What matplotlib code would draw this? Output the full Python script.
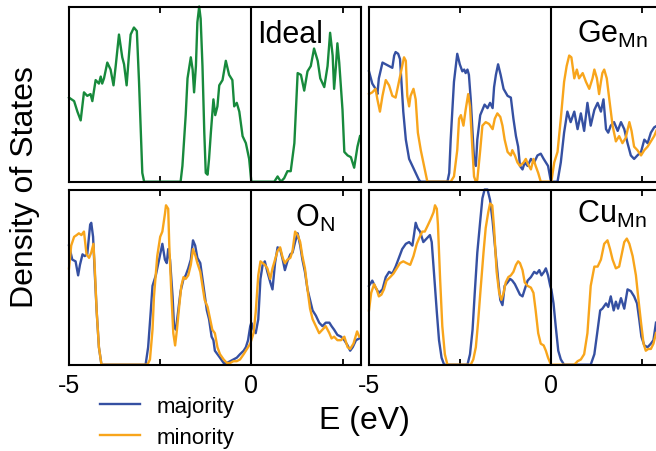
import matplotlib
matplotlib.use('Agg')
import matplotlib.pyplot as plt

# energies in eV, DOS in arbitrary units (panel top = 1)
ideal_e = [-5.00, -4.86, -4.77, -4.68, -4.59, -4.50, -4.41, -4.36, -4.27, -4.18,
           -4.13, -4.09, -4.04, -3.95, -3.86, -3.78, -3.72, -3.63, -3.54, -3.49,
           -3.42, -3.35, -3.31, -3.22, -3.14, -3.08, -3.03, -2.99, -2.94, -1.94,
           -1.89, -1.80, -1.75, -1.66, -1.61, -1.57, -1.52, -1.48, -1.43, -1.39,
           -1.34, -1.29, -1.25, -1.20, -1.16, -1.11, -1.04, -0.99, -0.93, -0.88,
           -0.79, -0.70, -0.61, -0.52, -0.47, -0.40, -0.33, -0.24, -0.15, -0.06,
           0.00, 0.63, 0.72, 0.81, 0.90, 0.99, 1.08, 1.18, 1.27, 1.36,
           1.45, 1.54, 1.63, 1.72, 1.82, 1.89, 2.00, 2.09, 2.16, 2.23,
           2.27, 2.32, 2.36, 2.41, 2.50, 2.55, 2.64, 2.73, 2.82, 2.91, 2.98]
ideal_dos = [0.48, 0.46, 0.40, 0.35, 0.51, 0.49, 0.50, 0.46, 0.58, 0.56,
             0.60, 0.56, 0.59, 0.68, 0.64, 0.55, 0.66, 0.84, 0.71, 0.67,
             0.55, 0.74, 0.84, 0.88, 0.86, 0.57, 0.28, 0.05, 0.00, 0.00,
             0.09, 0.38, 0.59, 0.71, 0.64, 0.51, 0.66, 0.91, 1.00, 0.93,
             0.66, 0.28, 0.05, 0.04, 0.13, 0.28, 0.47, 0.38, 0.43, 0.55,
             0.58, 0.69, 0.61, 0.58, 0.43, 0.45, 0.40, 0.26, 0.22, 0.13,
             0.00, 0.00, 0.03, 0.00, 0.02, 0.06, 0.06, 0.22, 0.62, 0.61,
             0.52, 0.63, 0.66, 0.76, 0.69, 0.59, 0.54, 0.66, 0.85, 0.72,
             0.53, 0.66, 0.79, 0.68, 0.41, 0.17, 0.15, 0.14, 0.08, 0.20, 0.26]

gemn_e_maj = [-5.00, -4.91, -4.82, -4.77, -4.73, -4.63, -4.54, -4.45, -4.36, -4.31,
              -4.27, -4.20, -4.15, -4.11, -4.06, -3.99, -3.90, -3.81, -3.72, -3.63,
              -3.58, -2.85, -2.80, -2.76, -2.67, -2.58, -2.51, -2.44, -2.39, -2.35,
              -2.30, -2.26, -2.21, -2.16, -2.12, -2.07, -2.03, -1.95, -1.89, -1.83,
              -1.75, -1.68, -1.61, -1.57, -1.52, -1.46, -1.39, -1.31, -1.20, -1.11,
              -1.04, -0.97, -0.91, -0.86, -0.79, -0.73, -0.65, -0.56, -0.47, -0.38,
              -0.29, -0.21, -0.15, -0.09, -0.01, 0.17, 0.26, 0.35, 0.44, 0.53,
              0.63, 0.72, 0.81, 0.90, 0.99, 1.08, 1.18, 1.27, 1.36, 1.43,
              1.50, 1.56, 1.63, 1.72, 1.82, 1.91, 2.00, 2.09, 2.18, 2.27,
              2.36, 2.46, 2.55, 2.64, 2.73, 2.82, 2.90]
gemn_maj = [0.63, 0.56, 0.53, 0.50, 0.59, 0.68, 0.67, 0.66, 0.65, 0.72,
            0.74, 0.73, 0.70, 0.57, 0.40, 0.24, 0.13, 0.09, 0.05, 0.01,
            0.00, 0.00, 0.05, 0.24, 0.57, 0.73, 0.67, 0.63, 0.64, 0.62,
            0.64, 0.61, 0.47, 0.28, 0.13, 0.09, 0.24, 0.38, 0.41, 0.44,
            0.42, 0.45, 0.42, 0.54, 0.61, 0.67, 0.61, 0.53, 0.49, 0.48,
            0.36, 0.26, 0.20, 0.09, 0.07, 0.11, 0.09, 0.13, 0.11, 0.15,
            0.16, 0.13, 0.11, 0.09, 0.00, 0.00, 0.11, 0.28, 0.40, 0.34,
            0.40, 0.30, 0.39, 0.29, 0.45, 0.32, 0.41, 0.45, 0.40, 0.47,
            0.30, 0.28, 0.32, 0.34, 0.29, 0.34, 0.30, 0.22, 0.15, 0.13,
            0.15, 0.17, 0.24, 0.22, 0.28, 0.31, 0.32]
gemn_e_min = [-5.00, -4.91, -4.82, -4.77, -4.70, -4.63, -4.54, -4.45, -4.36, -4.27,
              -4.18, -4.09, -4.04, -3.99, -3.95, -3.90, -3.86, -3.78, -3.72, -3.66,
              -3.58, -3.49, -3.40, -2.76, -2.67, -2.58, -2.53, -2.48, -2.41, -2.35,
              -2.28, -2.23, -2.16, -2.12, -2.07, -2.03, -1.95, -1.89, -1.80, -1.71,
              -1.61, -1.55, -1.48, -1.40, -1.34, -1.28, -1.20, -1.11, -1.07, -1.00,
              -0.93, -0.86, -0.76, -0.70, -0.64, -0.56, -0.49, -0.43, -0.36, -0.29,
              0.00, 0.08, 0.17, 0.26, 0.35, 0.42, 0.49, 0.55, 0.63, 0.70,
              0.76, 0.86, 0.95, 1.04, 1.13, 1.18, 1.25, 1.31, 1.36, 1.40,
              1.45, 1.52, 1.59, 1.68, 1.77, 1.86, 1.95, 2.04, 2.14, 2.20,
              2.27, 2.36, 2.46, 2.55, 2.64, 2.73, 2.82, 2.90]
gemn_min = [0.50, 0.51, 0.53, 0.47, 0.40, 0.49, 0.58, 0.55, 0.49, 0.48,
            0.57, 0.66, 0.71, 0.69, 0.49, 0.43, 0.49, 0.53, 0.47, 0.28,
            0.18, 0.09, 0.00, 0.00, 0.03, 0.18, 0.36, 0.38, 0.32, 0.41,
            0.50, 0.43, 0.17, 0.03, 0.00, 0.01, 0.18, 0.32, 0.34, 0.33,
            0.30, 0.36, 0.39, 0.37, 0.32, 0.24, 0.17, 0.15, 0.18, 0.15,
            0.11, 0.09, 0.11, 0.13, 0.10, 0.07, 0.13, 0.09, 0.05, 0.00,
            0.00, 0.11, 0.17, 0.36, 0.57, 0.66, 0.72, 0.71, 0.59, 0.64,
            0.59, 0.62, 0.57, 0.53, 0.59, 0.64, 0.59, 0.50, 0.57, 0.62,
            0.64, 0.59, 0.47, 0.32, 0.23, 0.26, 0.22, 0.25, 0.34, 0.29,
            0.20, 0.18, 0.15, 0.18, 0.20, 0.23, 0.26, 0.30]

on_e_maj = [-5.00, -4.91, -4.82, -4.75, -4.70, -4.63, -4.57, -4.50, -4.42, -4.39,
            -4.34, -4.30, -4.24, -4.18, -4.11, -2.90, -2.83, -2.76, -2.71, -2.62,
            -2.53, -2.44, -2.37, -2.32, -2.28, -2.23, -2.16, -2.12, -2.07, -2.01,
            -1.94, -1.86, -1.80, -1.73, -1.66, -1.60, -1.54, -1.48, -1.40, -1.34,
            -1.28, -1.22, -1.16, -1.09, -1.04, -1.00, -0.93, -0.86, -0.76, -0.67,
            -0.58, -0.49, -0.40, -0.31, -0.21, -0.15, -0.09, -0.03, 0.00, 0.06,
            0.12, 0.19, 0.25, 0.31, 0.37, 0.44, 0.52, 0.58, 0.65, 0.72,
            0.79, 0.86, 0.92, 0.99, 1.07, 1.13, 1.20, 1.27, 1.34, 1.40,
            1.47, 1.54, 1.61, 1.68, 1.77, 1.86, 1.95, 2.04, 2.14, 2.20,
            2.27, 2.36, 2.46, 2.55, 2.64, 2.71, 2.78, 2.87, 2.96]
on_maj = [0.68, 0.60, 0.59, 0.51, 0.57, 0.63, 0.62, 0.63, 0.80, 0.81,
          0.73, 0.55, 0.30, 0.10, 0.00, 0.00, 0.10, 0.30, 0.45, 0.51,
          0.60, 0.69, 0.60, 0.58, 0.66, 0.60, 0.39, 0.22, 0.20, 0.30,
          0.42, 0.49, 0.51, 0.55, 0.60, 0.71, 0.68, 0.61, 0.58, 0.49,
          0.40, 0.31, 0.26, 0.16, 0.14, 0.08, 0.06, 0.04, 0.01, 0.01,
          0.02, 0.03, 0.04, 0.06, 0.08, 0.10, 0.14, 0.22, 0.24, 0.20,
          0.18, 0.26, 0.49, 0.57, 0.59, 0.53, 0.47, 0.43, 0.58, 0.67,
          0.66, 0.60, 0.54, 0.59, 0.63, 0.64, 0.70, 0.75, 0.68, 0.60,
          0.53, 0.43, 0.37, 0.31, 0.28, 0.24, 0.22, 0.24, 0.24, 0.22,
          0.20, 0.17, 0.16, 0.14, 0.11, 0.08, 0.10, 0.14, 0.15]
on_e_min = [-5.00, -4.94, -4.86, -4.79, -4.73, -4.66, -4.59, -4.52, -4.45, -4.39,
            -4.33, -4.30, -4.24, -4.18, -4.11, -2.85, -2.78, -2.71, -2.67, -2.58,
            -2.50, -2.44, -2.37, -2.34, -2.28, -2.25, -2.19, -2.14, -2.09, -2.04,
            -1.98, -1.92, -1.86, -1.80, -1.73, -1.66, -1.60, -1.53, -1.48, -1.40,
            -1.34, -1.28, -1.20, -1.13, -1.07, -1.00, -0.93, -0.86, -0.76, -0.67,
            -0.58, -0.49, -0.40, -0.31, -0.21, -0.12, -0.03, 0.00, 0.06, 0.12,
            0.19, 0.25, 0.31, 0.37, 0.44, 0.52, 0.58, 0.65, 0.72, 0.79,
            0.86, 0.92, 0.99, 1.07, 1.13, 1.20, 1.27, 1.34, 1.40, 1.47,
            1.54, 1.61, 1.68, 1.77, 1.86, 1.95, 2.04, 2.14, 2.20, 2.27,
            2.36, 2.46, 2.55, 2.64, 2.71, 2.80, 2.90, 2.96]
on_min = [0.55, 0.68, 0.73, 0.74, 0.75, 0.74, 0.76, 0.63, 0.61, 0.64,
          0.69, 0.58, 0.30, 0.10, 0.00, 0.00, 0.03, 0.20, 0.39, 0.62,
          0.73, 0.76, 0.86, 0.91, 0.89, 0.68, 0.39, 0.18, 0.11, 0.20,
          0.33, 0.45, 0.50, 0.49, 0.51, 0.57, 0.66, 0.62, 0.58, 0.53,
          0.45, 0.37, 0.33, 0.26, 0.20, 0.18, 0.10, 0.06, 0.03, 0.01,
          0.01, 0.02, 0.02, 0.03, 0.06, 0.09, 0.12, 0.14, 0.18, 0.30,
          0.51, 0.59, 0.58, 0.57, 0.55, 0.49, 0.55, 0.60, 0.65, 0.67,
          0.61, 0.58, 0.60, 0.61, 0.65, 0.76, 0.74, 0.70, 0.62, 0.55,
          0.43, 0.32, 0.26, 0.22, 0.18, 0.20, 0.22, 0.18, 0.15, 0.16,
          0.14, 0.14, 0.16, 0.10, 0.09, 0.12, 0.19, 0.16]

cumn_e_maj = [-5.00, -4.91, -4.82, -4.73, -4.63, -4.54, -4.45, -4.36, -4.27, -4.18,
              -4.09, -3.99, -3.90, -3.81, -3.76, -3.72, -3.67, -3.60, -3.51, -3.42,
              -3.33, -3.28, -3.22, -3.14, -3.08, -3.01, -2.94, -2.30, -2.23, -2.16,
              -2.10, -2.03, -1.95, -1.89, -1.83, -1.75, -1.68, -1.61, -1.52, -1.46,
              -1.40, -1.34, -1.28, -1.20, -1.13, -1.07, -1.00, -0.93, -0.86, -0.79,
              -0.73, -0.65, -0.56, -0.47, -0.40, -0.33, -0.27, -0.20, -0.15, -0.09,
              -0.03, 0.00, 0.06, 0.12, 0.19, 0.26, 0.35, 1.08, 1.18, 1.27,
              1.34, 1.40, 1.50, 1.56, 1.63, 1.71, 1.77, 1.83, 1.91, 2.00,
              2.09, 2.18, 2.27, 2.35, 2.41, 2.47, 2.55, 2.64, 2.73, 2.80, 2.87]
cumn_maj = [0.45, 0.48, 0.44, 0.41, 0.43, 0.50, 0.53, 0.52, 0.56, 0.61,
            0.66, 0.69, 0.70, 0.68, 0.75, 0.81, 0.78, 0.76, 0.70, 0.72,
            0.74, 0.70, 0.53, 0.30, 0.14, 0.04, 0.00, 0.00, 0.06, 0.20,
            0.41, 0.64, 0.82, 0.95, 1.00, 1.00, 0.94, 0.82, 0.62, 0.49,
            0.37, 0.34, 0.45, 0.47, 0.49, 0.48, 0.46, 0.43, 0.40, 0.39,
            0.43, 0.48, 0.50, 0.53, 0.52, 0.54, 0.51, 0.53, 0.55, 0.51,
            0.45, 0.43, 0.35, 0.22, 0.08, 0.03, 0.00, 0.00, 0.06, 0.20,
            0.31, 0.32, 0.35, 0.33, 0.39, 0.31, 0.36, 0.32, 0.38, 0.32,
            0.43, 0.42, 0.39, 0.35, 0.26, 0.16, 0.11, 0.10, 0.12, 0.14, 0.24]
cumn_e_min = [-5.00, -4.94, -4.86, -4.79, -4.73, -4.66, -4.59, -4.52, -4.42, -4.33,
              -4.24, -4.15, -4.06, -3.97, -3.87, -3.78, -3.69, -3.63, -3.54, -3.47,
              -3.40, -3.31, -3.23, -3.19, -3.14, -3.11, -3.05, -2.99, -2.92, -2.85,
              -2.21, -2.14, -2.07, -2.01, -1.94, -1.86, -1.80, -1.73, -1.68, -1.62,
              -1.57, -1.50, -1.43, -1.37, -1.31, -1.25, -1.18, -1.11, -1.04, -0.97,
              -0.91, -0.86, -0.79, -0.73, -0.65, -0.56, -0.49, -0.43, -0.36, -0.29,
              -0.21, -0.15, -0.09, -0.01, 0.63, 0.72, 0.81, 0.90, 0.99, 1.08,
              1.18, 1.27, 1.36, 1.45, 1.54, 1.61, 1.68, 1.77, 1.86, 1.93,
              2.00, 2.07, 2.14, 2.23, 2.32, 2.38, 2.46, 2.53, 2.59, 2.66,
              2.73, 2.80, 2.87]
cumn_min = [0.31, 0.41, 0.46, 0.43, 0.39, 0.40, 0.43, 0.48, 0.50, 0.52,
            0.55, 0.58, 0.59, 0.58, 0.57, 0.62, 0.69, 0.72, 0.76, 0.76,
            0.79, 0.83, 0.87, 0.91, 0.89, 0.80, 0.49, 0.22, 0.06, 0.00,
            0.00, 0.03, 0.10, 0.24, 0.43, 0.64, 0.78, 0.87, 0.92, 0.91,
            0.78, 0.53, 0.41, 0.37, 0.41, 0.47, 0.50, 0.51, 0.53, 0.57,
            0.59, 0.58, 0.54, 0.47, 0.45, 0.44, 0.41, 0.31, 0.18, 0.12,
            0.11, 0.08, 0.04, 0.00, 0.00, 0.02, 0.03, 0.06, 0.18, 0.45,
            0.56, 0.56, 0.60, 0.69, 0.71, 0.66, 0.60, 0.55, 0.56, 0.63,
            0.70, 0.72, 0.69, 0.62, 0.51, 0.39, 0.24, 0.12, 0.08, 0.09,
            0.09, 0.12, 0.18]

tick_pos = [-5, -2.5, 0, 2.5]
tick_labels = ['-5', '', '0', '']

green = '#178a3c'
blue = '#3550a2'
orange = '#f8a51b'

plt.rcParams['font.family'] = 'Liberation Sans'
plt.rcParams['mathtext.fontset'] = 'custom'
plt.rcParams['mathtext.rm'] = 'Liberation Sans'
plt.rcParams['mathtext.it'] = 'Liberation Sans:italic'

fig = plt.figure(figsize=(6.56, 4.52), dpi=100)

W = 0.4447
H = 0.3876
ax_ideal = fig.add_axes([0.1052, 0.5958, W, H])
ax_gemn = fig.add_axes([0.5625, 0.5958, W, H])
ax_on = fig.add_axes([0.1052, 0.1909, W, H])
ax_cumn = fig.add_axes([0.5625, 0.1909, W, H])

kw = dict(lw=1.7, clip_on=False, zorder=3, solid_joinstyle='round')
ax_ideal.plot(ideal_e, ideal_dos, color=green, **kw)
l_maj, = ax_gemn.plot(gemn_e_maj, gemn_maj, color=blue, **kw)
l_min, = ax_gemn.plot(gemn_e_min, gemn_min, color=orange, **kw)
ax_on.plot(on_e_maj, on_maj, color=blue, **kw)
ax_on.plot(on_e_min, on_min, color=orange, **kw)
ax_cumn.plot(cumn_e_maj, cumn_maj, color=blue, **kw)
ax_cumn.plot(cumn_e_min, cumn_min, color=orange, **kw)

for ax in [ax_ideal, ax_gemn, ax_on, ax_cumn]:
    ax.set_xlim(-5, 3)
    ax.set_ylim(0, 1)
    ax.axvline(0, color='black', lw=1.5, zorder=4)
    ax.set_xticks(tick_pos)
    ax.set_yticks([])
    for s in ax.spines.values():
        s.set_linewidth(1.5)
        s.set_zorder(4)
    ax.tick_params(axis='x', direction='in', length=4, width=1.3,
                   top=True, bottom=True, labelsize=18, pad=6)

for ax in [ax_ideal, ax_gemn]:
    ax.set_xticklabels([])
for ax in [ax_on, ax_cumn]:
    ax.set_xticklabels(tick_labels)

ax_ideal.text(0.645, 0.797, 'Ideal', transform=ax_ideal.transAxes,
              fontsize=22, va='baseline')
ax_gemn.text(0.713, 0.797, r'Ge$_{\mathrm{Mn}}$', transform=ax_gemn.transAxes,
             fontsize=22, va='baseline')
ax_on.text(0.775, 0.793, r'O$_{\mathrm{N}}$', transform=ax_on.transAxes,
           fontsize=22, va='baseline')
ax_cumn.text(0.713, 0.816, r'Cu$_{\mathrm{Mn}}$', transform=ax_cumn.transAxes,
             fontsize=22, va='baseline')

fig.text(0.038, 0.586, 'Density of States', rotation=90, fontsize=23,
         ha='center', va='center')
fig.text(0.555, 0.068, 'E (eV)', fontsize=23, ha='center', va='center')

fig.legend([l_maj, l_min], ['majority', 'minority'], loc='upper left',
           bbox_to_anchor=(0.152, 0.122), frameon=False, fontsize=16,
           handlelength=1.8, handletextpad=0.75, labelspacing=0.45,
           borderpad=0, borderaxespad=0)

fig.savefig('out.png', dpi=100)
